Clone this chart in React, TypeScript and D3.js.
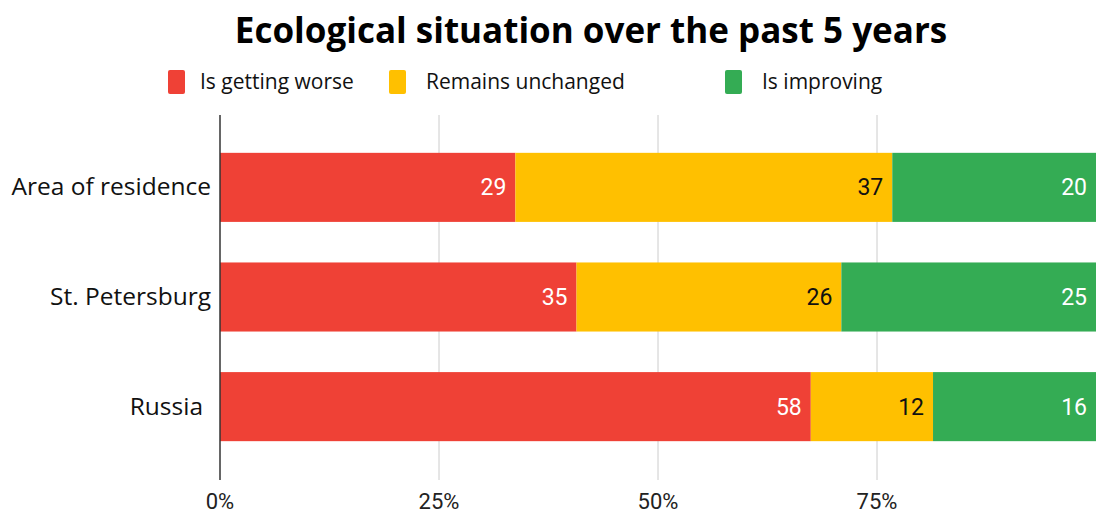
import React from "react";
import * as d3 from "d3";

const categories = ["Area of residence", "St. Petersburg", "Russia"];
const seriesNames = ["Is getting worse", "Remains unchanged", "Is improving"];
const worse = [29, 35, 58];
const unchanged = [37, 26, 12];
const improving = [20, 25, 16];
const tickValues = [0, 0.25, 0.5, 0.75];
const colors = ["#EF4136", "#FFC000", "#34AC54"];
const labelColors = ["#ffffff", "#111111", "#ffffff"];

const W = 1098;
const H = 515;

export default function App() {
  const x = d3.scaleLinear().domain([0, 1]).range([220, 1096]);
  const y = d3.scaleBand().domain(categories).range([132, 462]).paddingInner(0.37).paddingOuter(0.19);
  const rows = categories.map((c, i) => ({ cat: c, worse: worse[i], unchanged: unchanged[i], improving: improving[i] }));
  const keys = ["worse", "unchanged", "improving"];
  const stack = d3.stack<any>().keys(keys).offset(d3.stackOffsetExpand);
  const series = stack(rows);
  const fmt = d3.format(".0%");
  const legendX = [168, 389, 725];

  return (
    <svg width={W} height={H} style={{ position: "absolute", left: 0, top: 0, background: "#fff" }}>
      <text x={591} y={43} textAnchor="middle" fontFamily="'Open Sans'" fontWeight={700} fontSize={35} fill="#000">
        Ecological situation over the past 5 years
      </text>
      {seriesNames.map((n, i) => (
        <g key={n}>
          <rect x={legendX[i]} y={70} width={17} height={24} rx={2} fill={colors[i]} />
          <text x={legendX[i] + (i === 0 ? 32 : 37)} y={89} fontFamily="'Open Sans'" fontSize={21} fill="#111">
            {n}
          </text>
        </g>
      ))}
      {tickValues.slice(1).map((t) => (
        <line key={t} x1={x(t)} x2={x(t)} y1={115} y2={480} stroke="#cccccc" strokeWidth={1} />
      ))}
      {series.map((s, si) =>
        s.map((d, i) => {
          const x0 = x(d[0]);
          const x1 = x(d[1]);
          const yy = y(categories[i])!;
          return (
            <g key={si + "-" + i}>
              <rect x={x0} y={yy} width={x1 - x0} height={y.bandwidth()} fill={colors[si]} />
              <text x={x1 - 9} y={yy + y.bandwidth() / 2 + 8} textAnchor="end" fontFamily="Roboto" fontSize={23} fill={labelColors[si]}>
                {(d.data as any)[keys[si]]}
              </text>
            </g>
          );
        })
      )}
      <line x1={220} x2={220} y1={115} y2={480} stroke="#333" strokeWidth={1.5} />
      {categories.map((c) => (
        <text key={c} x={c === "Russia" ? 203 : 211} y={y(c)! + y.bandwidth() / 2 + 8} textAnchor="end" fontFamily="'Open Sans'" fontSize={24.5} fill="#111">
          {c}
        </text>
      ))}
      {tickValues.map((t) => (
        <text key={t} x={x(t)} y={509} textAnchor="middle" fontFamily="Roboto" fontSize={22} fill="#222">
          {fmt(t)}
        </text>
      ))}
    </svg>
  );
}
